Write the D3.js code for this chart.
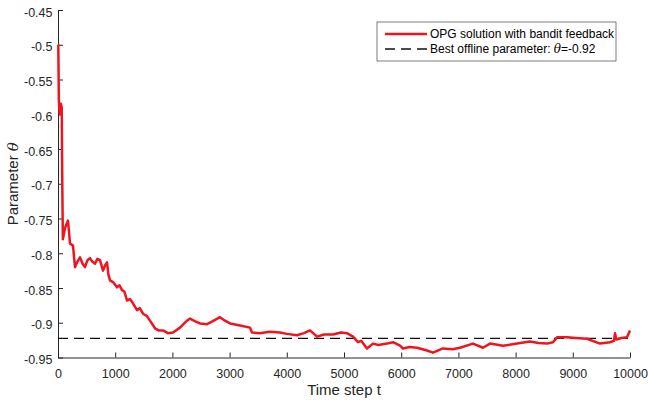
<!DOCTYPE html>
<html>
<head>
<meta charset="utf-8">
<script src="https://cdn.jsdelivr.net/npm/d3@7"></script>
<style>
  body { margin: 0; background: #fff; }
  text { font-family: "Liberation Sans", Arial, Helvetica, sans-serif; }
</style>
</head>
<body>
<div id="chart"></div>
<script>
// ---- data ----
var timeSteps = [0, 5, 15, 30, 50, 65, 75, 85, 122, 175, 210, 262, 297, 340, 385, 430, 472, 515, 559, 600,
  647, 690, 734, 787, 820, 857, 880, 909, 970, 1031, 1075, 1119, 1160, 1206, 1260, 1311, 1381, 1430, 1486, 1550,
  1608, 1696, 1760, 1836, 1920, 2010, 2133, 2255, 2308, 2400, 2483, 2605, 2700, 2832, 2920, 3007, 3182,
  3357, 3392, 3531, 3700, 3881, 4000, 4178, 4300, 4406, 4528, 4650, 4808, 4950, 5052, 5157, 5245, 5300,
  5402, 5507, 5600, 5752, 5857, 5979, 6031, 6150, 6276, 6451, 6556, 6731, 6900, 7028, 7255, 7430, 7552,
  7780, 8024, 8252, 8400, 8549, 8654, 8724, 8899, 9050, 9248, 9476, 9650, 9720, 9738, 9760, 9850, 9948, 10000];
var thetaValues = [-0.50, -0.50, -0.58, -0.60, -0.585, -0.59, -0.70, -0.78, -0.764, -0.753, -0.786, -0.789, -0.82, -0.812, -0.806, -0.815, -0.82, -0.81, -0.807, -0.812,
  -0.815, -0.808, -0.81, -0.825, -0.818, -0.813, -0.83, -0.839, -0.842, -0.849, -0.846, -0.853, -0.855, -0.868, -0.866, -0.872, -0.882, -0.879, -0.887, -0.89,
  -0.897, -0.908, -0.911, -0.911, -0.915, -0.914, -0.907, -0.897, -0.894, -0.898, -0.901, -0.902, -0.898, -0.892, -0.897, -0.901, -0.904,
  -0.907, -0.914, -0.915, -0.913, -0.914, -0.916, -0.918, -0.915, -0.911, -0.92, -0.917, -0.917, -0.914, -0.915, -0.92, -0.928, -0.926,
  -0.937, -0.93, -0.932, -0.93, -0.928, -0.933, -0.937, -0.935, -0.936, -0.94, -0.943, -0.937, -0.938, -0.936, -0.93, -0.936, -0.93,
  -0.933, -0.93, -0.927, -0.929, -0.93, -0.928, -0.921, -0.921, -0.922, -0.923, -0.93, -0.928, -0.926, -0.915, -0.924, -0.922, -0.921, -0.911];
var bestTheta = -0.9225;
var xTicks = [0, 1000, 2000, 3000, 4000, 5000, 6000, 7000, 8000, 9000, 10000];
var yTicks = [-0.95, -0.9, -0.85, -0.8, -0.75, -0.7, -0.65, -0.6, -0.55, -0.5, -0.45];
var seriesLabel = "OPG solution with bandit feedback";

var width = 648, height = 406;
var margin = {left: 58, right: 18, top: 10, bottom: 48.5};
var axisColor = "#262626";

var svg = d3.select("#chart").append("svg")
    .attr("width", width)
    .attr("height", height);

var x = d3.scaleLinear().domain([0, 10000]).range([margin.left, width - margin.right]);
var y = d3.scaleLinear().domain([-0.95, -0.45]).range([height - margin.bottom, margin.top]);

// axes (MATLAB style: ticks inward, box off)
var xAxis = svg.append("g")
    .attr("transform", "translate(0," + (height - margin.bottom) + ")")
    .call(d3.axisBottom(x).tickValues(xTicks).tickFormat(d3.format("d"))
      .tickSizeInner(-5).tickSizeOuter(0).tickPadding(11.5));
var yAxis = svg.append("g")
    .attr("transform", "translate(" + margin.left + ",0)")
    .call(d3.axisLeft(y).tickValues(yTicks).tickFormat(function(d) { return String(+d.toFixed(2)); })
      .tickSizeInner(-5).tickSizeOuter(0).tickPadding(5.5));

[xAxis, yAxis].forEach(function(a) {
  a.select(".domain").attr("stroke", axisColor).attr("stroke-width", 1);
  a.selectAll(".tick line").attr("stroke", axisColor);
  a.selectAll(".tick text").attr("fill", axisColor).style("font-size", "12.5px")
   .style("font-family", "'Liberation Sans', Arial, sans-serif");
});
yAxis.selectAll(".tick text").attr("dy", "0.48em");

// best offline parameter
svg.append("line")
    .attr("x1", x(0)).attr("x2", x(10000))
    .attr("y1", y(bestTheta)).attr("y2", y(bestTheta))
    .attr("stroke", "#111").attr("stroke-width", 1.4)
    .attr("stroke-dasharray", "10,6");

// OPG curve
var line = d3.line()
    .x(function(d, i) { return x(timeSteps[i]); })
    .y(function(d) { return y(d); });
svg.append("path")
    .attr("d", line(thetaValues))
    .attr("fill", "none")
    .attr("stroke", "#f0141e")
    .attr("stroke-width", 2.5)
    .attr("stroke-linejoin", "round");

// axis labels
svg.append("text")
    .attr("x", (margin.left + width - margin.right) / 2)
    .attr("y", 395)
    .attr("text-anchor", "middle")
    .attr("fill", axisColor)
    .style("font-size", "15px")
    .text("Time step t");

var yl = svg.append("text")
    .attr("transform", "translate(18," + (margin.top + height - margin.bottom) / 2 + ") rotate(-90)")
    .attr("text-anchor", "middle")
    .attr("fill", axisColor)
    .style("font-size", "15px");
yl.append("tspan").text("Parameter ");
yl.append("tspan").style("font-style", "italic").style("font-family", "'DejaVu Serif', serif").text("θ");

// legend
var lg = svg.append("g").attr("transform", "translate(377,22)");
lg.append("rect")
    .attr("width", 239).attr("height", 39)
    .attr("fill", "#fff").attr("stroke", axisColor).attr("stroke-width", 0.6);
lg.append("line").attr("x1", 8).attr("x2", 50).attr("y1", 12).attr("y2", 12)
    .attr("stroke", "#f0141e").attr("stroke-width", 2.5);
lg.append("line").attr("x1", 8).attr("x2", 50).attr("y1", 27).attr("y2", 27)
    .attr("stroke", "#111").attr("stroke-width", 1.4).attr("stroke-dasharray", "10,6");
lg.append("text").attr("x", 53).attr("y", 16).attr("fill", "#000")
    .style("font-size", "12px").text(seriesLabel);
var t2 = lg.append("text").attr("x", 53).attr("y", 31).attr("fill", "#000").style("font-size", "12px");
t2.append("tspan").text("Best offline parameter: ");
t2.append("tspan").style("font-style", "italic").style("font-family", "'DejaVu Serif', serif").text("θ");
t2.append("tspan").text("=-" + Math.abs(bestTheta).toFixed(2));
</script>
</body>
</html>
